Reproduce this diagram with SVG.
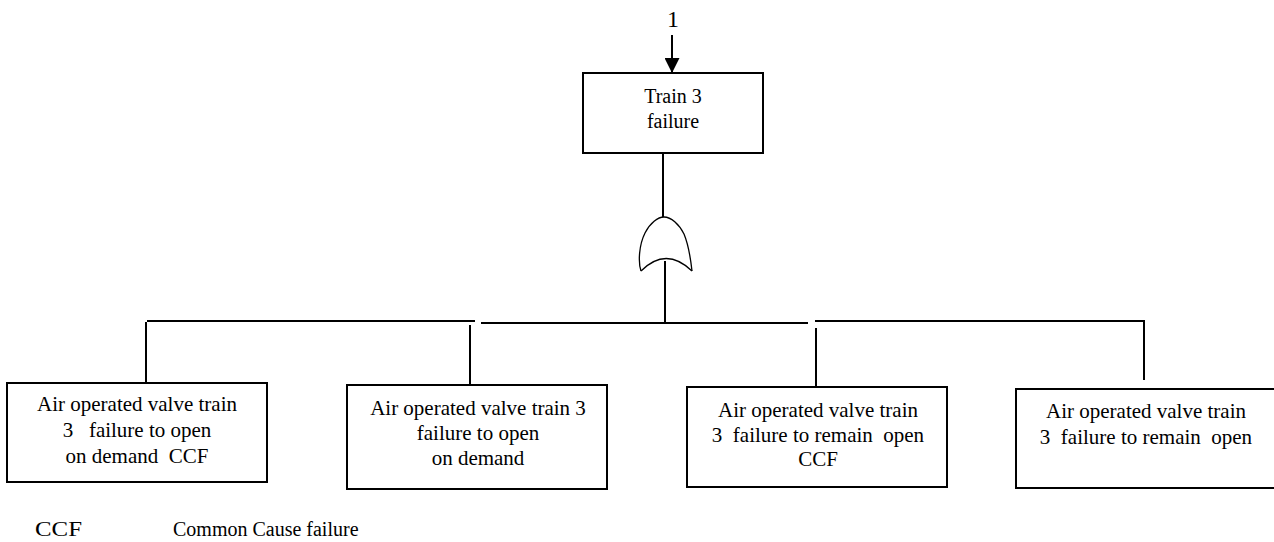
<svg xmlns="http://www.w3.org/2000/svg" width="1274" height="542" viewBox="0 0 1274 542" xml:space="preserve">
<style>
.box{fill:#fff;stroke:#000;stroke-width:2}
.ln{stroke:#000;stroke-width:2;fill:none}
.gate{stroke:#000;stroke-width:1.3;fill:none}
text{font-family:"Liberation Serif","Times New Roman",serif;font-size:21px;fill:#000;text-anchor:middle;white-space:pre}
.leg{text-anchor:start}
.f20{font-size:20px}
.f24{font-size:24px}
</style>
<defs>
<marker id="arr" markerUnits="userSpaceOnUse" markerWidth="15" markerHeight="15" refX="15" refY="7.5" orient="auto">
<path d="M0,0 L15,7.5 L0,15 z" fill="#000"/>
</marker>
</defs>
<g id="connectors">
<path class="ln" d="M672,35 V73" marker-end="url(#arr)"/>
<path class="ln" d="M663,153 V217"/>
<path class="ln" d="M665,261 V322"/>
<path class="ln" d="M147,321 H475"/>
<path class="ln" d="M481,323 H808"/>
<path class="ln" d="M815,321 H1145"/>
<path class="ln" d="M146,322 V383"/>
<path class="ln" d="M470,325 V385"/>
<path class="ln" d="M816,328 V387"/>
<path class="ln" d="M1144,321 V380"/>
</g>
<text class="f24" x="673" y="27">1</text>
<g id="top">
<rect class="box" x="583" y="73" width="180" height="80"/>
<text class="f20" x="673" y="103">Train 3</text>
<text class="f20" x="673" y="128">failure</text>
</g>
<g id="orgate">
<path class="gate" d="M641,271 C638,262 639,245 645,233 C650,223 658,217 664,217 C671,217 679,224 684,234 C689,246 691,262 692,271"/>
<path class="gate" d="M641,271 Q666,246 692,271"/>
</g>
<g id="b1">
<rect class="box" x="7" y="383" width="260" height="99"/>
<text x="137" y="411">Air operated valve train</text>
<text x="137" y="437">3   failure to open</text>
<text x="137" y="463">on demand  CCF</text>
</g>
<g id="b2">
<rect class="box" x="347" y="385" width="260" height="104"/>
<text x="478" y="415">Air operated valve train 3</text>
<text x="478" y="440">failure to open</text>
<text x="478" y="465">on demand</text>
</g>
<g id="b3">
<rect class="box" x="687" y="387" width="260" height="100"/>
<text x="818" y="417">Air operated valve train</text>
<text x="818" y="442">3  failure to remain  open</text>
<text x="818" y="466">CCF</text>
</g>
<g id="b4">
<rect class="box" x="1016" y="389" width="270" height="99"/>
<text x="1146" y="418">Air operated valve train</text>
<text x="1146" y="444">3  failure to remain  open</text>
</g>
<g id="legend">
<text class="leg" x="35" y="536" textLength="47" lengthAdjust="spacingAndGlyphs">CCF</text>
<text class="leg f20" x="173" y="536">Common Cause failure</text>
</g>
</svg>
